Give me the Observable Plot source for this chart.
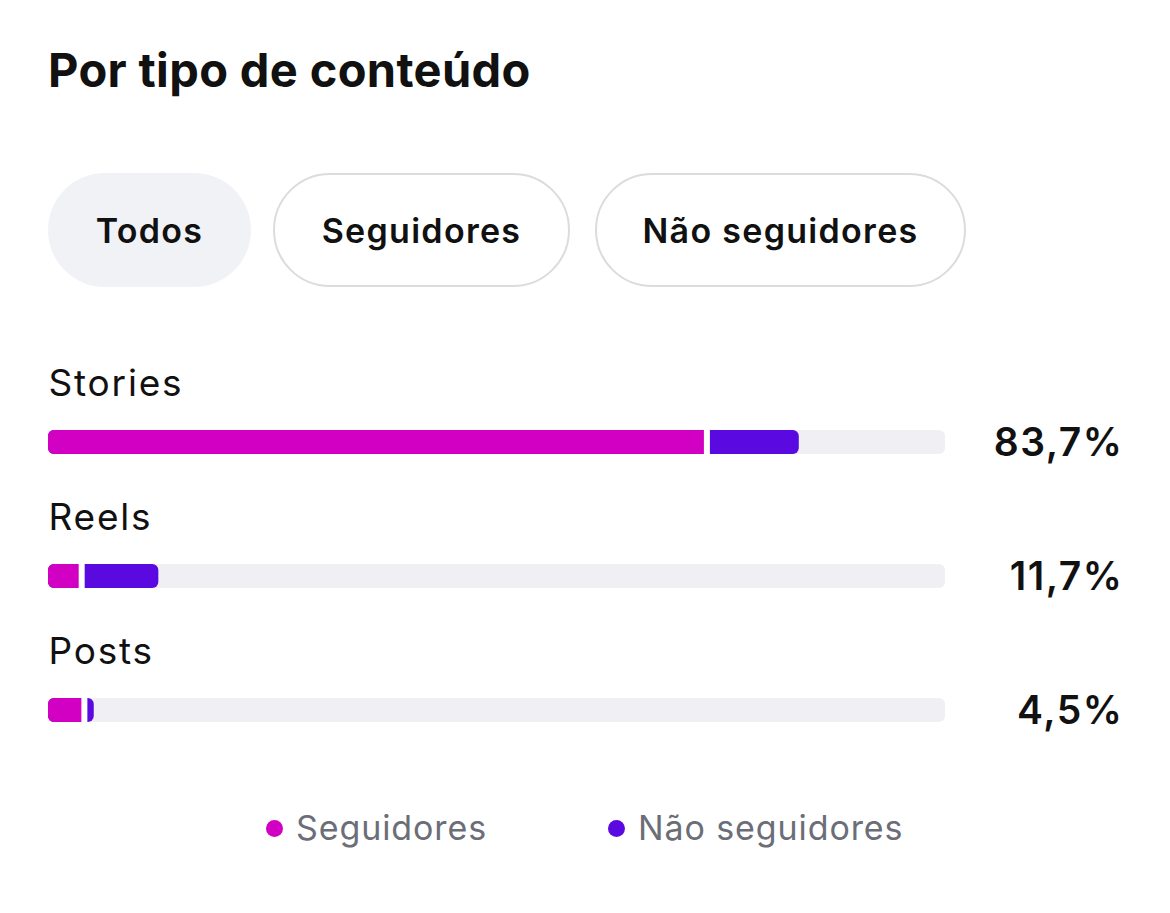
<!DOCTYPE html>
<html>
<head>
<meta charset="utf-8">
<script src="https://cdn.jsdelivr.net/npm/d3@7"></script>
<script src="https://cdn.jsdelivr.net/npm/@observablehq/plot@0.6"></script>
<style>
  html, body { margin: 0; padding: 0; background: #ffffff; width: 1170px; height: 913px; overflow: hidden; }
  body { font-family: Inter, "Noto Sans", sans-serif; color: #111111; position: relative; }
  #title { position: absolute; left: 48px; top: 40px; font-size: 47px; font-weight: 700; letter-spacing: 0.35px; line-height: 60px; margin: 0; }
  .pill { position: absolute; top: 173px; height: 114px; border-radius: 57px; box-sizing: border-box;
          display: flex; align-items: center; justify-content: center; font-size: 34px; font-weight: 600; color: #111; letter-spacing: 1.3px; }
  .pill.active { background: #f1f2f5; }
  .pill.outline { border: 2.5px solid #dcdcdc; background: #fff; }
  #chart { position: absolute; left: 0; top: 340px; }
  .legend { position: absolute; top: 806px; display: flex; align-items: center; font-size: 34px; color: #6b6e77; line-height: 44px; letter-spacing: 0.9px; }
  .legend .dot { width: 17px; height: 17px; border-radius: 50%; margin-right: 13px; }
</style>
</head>
<body>
<h1 id="title">Por tipo de conteúdo</h1>
<div id="pills"></div>
<div id="chart"></div>
<div id="legend"></div>
<script>
// ---- data ----
const categories = ["Stories", "Reels", "Posts"];
const totals = [83.7, 11.7, 4.5];
const totalLabels = ["83,7%", "11,7%", "4,5%"];
const seguidores = [73.4, 3.7, 4.0];
const naoSeguidores = [10.3, 8.6, 1.1];
const filterLabels = ["Todos", "Seguidores", "Não seguidores"];
const seriesNames = ["Seguidores", "Não seguidores"];
const seriesColors = ["#d100c3", "#5a0ae0"];

// ---- pills (filter buttons) ----
const pillGeom = [[48, 203, "active"], [273, 297, "outline"], [595, 371, "outline"]];
const pills = document.getElementById("pills");
filterLabels.forEach((t, i) => {
  const d = document.createElement("div");
  d.className = "pill " + pillGeom[i][2];
  d.style.left = pillGeom[i][0] + "px";
  d.style.width = pillGeom[i][1] + "px";
  d.textContent = t;
  pills.appendChild(d);
});

// ---- table ----
const rows = categories.map((c, i) => ({
  cat: c,
  total: seguidores[i] + naoSeguidores[i],
  seg: seguidores[i],
  segHalf: seguidores[i] / 2,
  label: totalLabels[i]
}));

const step = 134;
const marginTop = 22;
const height = marginTop + step * categories.length + 10;
const track = "#efeff4";
const barTop = 68, barBottom = step - 92;

const chart = Plot.plot({
  width: 1170,
  height,
  marginLeft: 48,
  marginRight: 225,
  marginTop,
  marginBottom: 10,
  x: { domain: [0, 100], axis: null },
  y: { domain: categories, axis: null, paddingInner: 0, paddingOuter: 0 },
  style: { fontFamily: "Inter, 'Noto Sans', sans-serif", background: "transparent" },
  marks: [
    // track
    Plot.barX(rows, { y: "cat", x1: 0, x2: 100, fill: track, rx: 6, insetTop: barTop, insetBottom: barBottom }),
    // non-followers (full total, rounded)
    Plot.barX(rows, { y: "cat", x1: 0, x2: "total", fill: seriesColors[1], rx: 6, insetTop: barTop, insetBottom: barBottom }),
    // followers (rounded left)
    Plot.barX(rows, { y: "cat", x1: 0, x2: "seg", fill: seriesColors[0], rx: 6, insetTop: barTop, insetBottom: barBottom }),
    // followers square right end
    Plot.barX(rows, { y: "cat", x1: "segHalf", x2: "seg", fill: seriesColors[0], insetTop: barTop, insetBottom: barBottom }),
    // white separator
    Plot.tickX(rows, { y: "cat", x: "seg", stroke: "#ffffff", strokeWidth: 6, insetTop: barTop - 1, insetBottom: barBottom - 1 }),
    // category labels
    Plot.text(rows, { y: "cat", x: 0, text: "cat", textAnchor: "start", dy: -45, fontSize: 37, fill: "#111" }),
    // total labels
    Plot.text(rows, { y: "cat", frameAnchor: "right", text: "label", textAnchor: "end", dx: 178, dy: 14, fontSize: 39, fontWeight: 600, fill: "#111" })
  ]
});
chart.querySelectorAll("text").forEach(t => {
  if (categories.includes(t.textContent)) t.setAttribute("letter-spacing", "1.8");
  if (totalLabels.includes(t.textContent)) t.setAttribute("letter-spacing", "1.5");
});
document.getElementById("chart").appendChild(chart);

// ---- legend ----
const legend = document.getElementById("legend");
const legendX = [266, 608];
seriesNames.forEach((n, i) => {
  const d = document.createElement("div");
  d.className = "legend";
  d.style.left = legendX[i] + "px";
  const dot = document.createElement("span");
  dot.className = "dot";
  dot.style.background = seriesColors[i];
  const t = document.createElement("span");
  t.textContent = n;
  d.appendChild(dot); d.appendChild(t);
  legend.appendChild(d);
});
</script>
</body>
</html>
